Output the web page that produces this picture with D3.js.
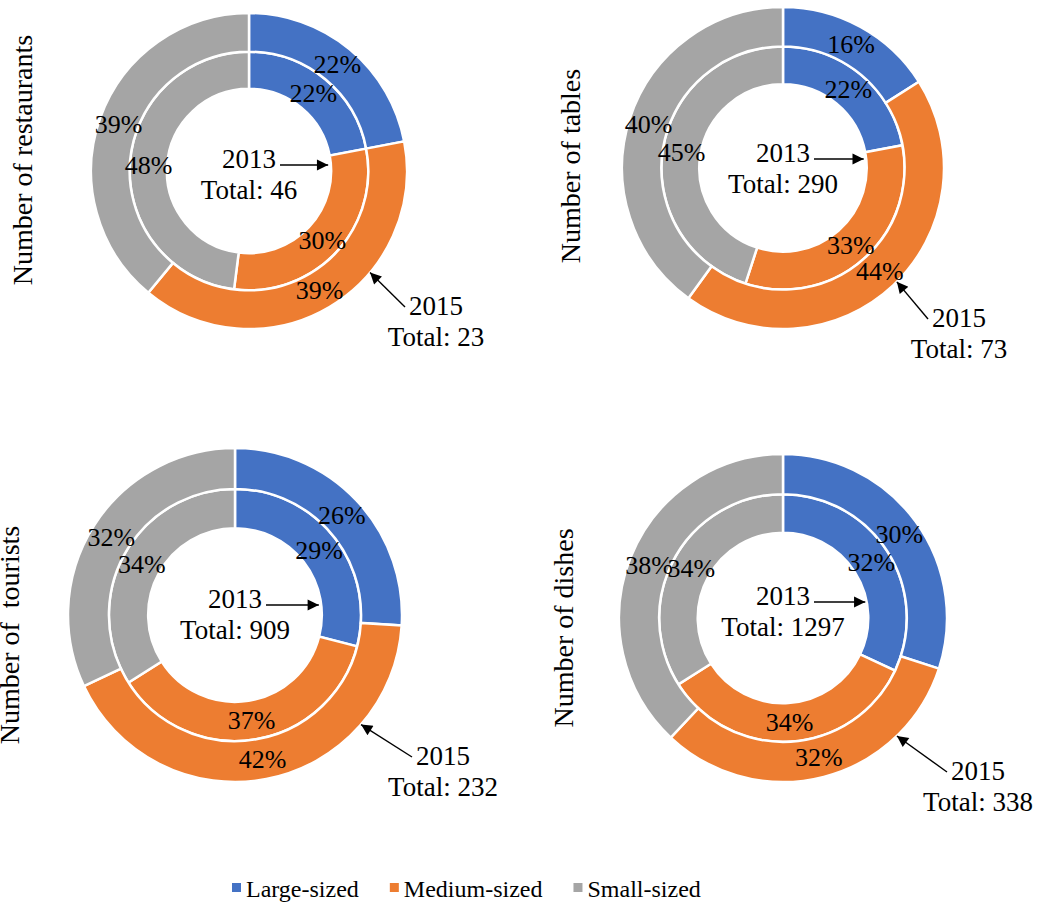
<!DOCTYPE html>
<html lang="en">
<head>
<meta charset="utf-8">
<title>Restaurants by size, 2013 vs 2015</title>
<script src="https://cdn.jsdelivr.net/npm/d3@7"></script>
<style>
  body { margin: 0; background: #fff; }
</style>
</head>
<body>
<svg id="chart" width="1039" height="905" font-family="'Liberation Serif', 'Times New Roman', 'DejaVu Serif', serif"></svg>
<script>
// data (percent shares per size class)
var sizes = ["Large-sized", "Medium-sized", "Small-sized"];
var measures = ["Number of restaurants", "Number of tables", "Number of  tourists", "Number of dishes"];
var share2013 = [[22, 30, 48], [22, 33, 45], [29, 37, 34], [32, 34, 34]];
var share2015 = [[22, 39, 39], [16, 44, 40], [26, 42, 32], [30, 32, 38]];
var total2013 = [46, 290, 909, 1297];
var total2015 = [23, 73, 232, 338];

// layout of the four panels
var panels = [
    {cx: 249, cy: 171, r: 158, titleX: -217, titleY: -11, midDy: -3, tipA: 130, lx: 187, ly: 144},
    {cx: 783, cy: 168, r: 161, titleX: -203, titleY: -2, midDy: -6, tipA: 135, lx: 176, ly: 159},
    {cx: 235, cy: 615, r: 167, titleX: -216, titleY: 20, midDy: -7, tipA: 131, lx: 208, ly: 150},
    {cx: 783, cy: 618, r: 164, titleX: -210, titleY: 10, midDy: -13, tipA: 136, lx: 195, ly: 162}
];

var color = d3.scaleOrdinal().domain(sizes).range(["#4472C4", "#ED7D31", "#A5A5A5"]);
var svg = d3.select("#chart");

svg.append("defs").append("marker")
    .attr("id", "head")
    .attr("viewBox", "0 0 10 10")
    .attr("refX", 10).attr("refY", 5)
    .attr("markerWidth", 10).attr("markerHeight", 8)
    .attr("markerUnits", "strokeWidth")
    .attr("orient", "auto")
  .append("path")
    .attr("d", "M0,0 L10,5 L0,10 Z")
    .attr("fill", "#000");

var pie = d3.pie().sort(null).value(function(d) { return d.v; });

panels.forEach(function(p, i) {
    var g = svg.append("g").attr("transform", "translate(" + p.cx + "," + p.cy + ")");
    var hole = p.r * 0.52, mid = p.r * 0.755;

    /** rings: 2013 inside, 2015 outside */
    var rings = [
        {vals: share2013[i], arc: d3.arc().innerRadius(hole).outerRadius(mid)},
        {vals: share2015[i], arc: d3.arc().innerRadius(mid).outerRadius(p.r)}
    ];
    rings.forEach(function(ring) {
        var arcs = pie(ring.vals.map(function(v, k) { return {k: sizes[k], v: v}; }));
        g.selectAll(null).data(arcs).enter().append("path")
            .attr("d", ring.arc)
            .attr("fill", function(d) { return color(d.data.k); })
            .attr("stroke", "#fff")
            .attr("stroke-width", 2.5);
        ring.arcs = arcs;
    });
    rings.forEach(function(ring) {
        g.selectAll(null).data(ring.arcs).enter().append("text")
            .attr("transform", function(d) { return "translate(" + ring.arc.centroid(d) + ")"; })
            .attr("text-anchor", "middle")
            .attr("dy", "0.35em")
            .attr("font-size", 26)
            .text(function(d) { return d.data.v + "%"; });
    });

    /** title on the left */
    g.append("text")
        .attr("transform", "translate(" + p.titleX + "," + p.titleY + ") rotate(-90)")
        .attr("text-anchor", "middle")
        .attr("font-size", 28)
        .style("white-space", "pre")
        .text(measures[i]);

    /** 2013 label in the hole */
    g.append("text").attr("x", 0).attr("y", p.midDy)
        .attr("text-anchor", "middle").attr("font-size", 27).text("2013");
    g.append("text").attr("x", 0).attr("y", p.midDy + 31)
        .attr("text-anchor", "middle").attr("font-size", 27).text("Total: " + total2013[i]);
    g.append("line")
        .attr("x1", 31).attr("y1", p.midDy - 3)
        .attr("x2", hole - 3).attr("y2", p.midDy - 3)
        .attr("stroke", "#000").attr("stroke-width", 1.4)
        .attr("marker-end", "url(#head)");

    /** 2015 label outside */
    var a = p.tipA * Math.PI / 180;
    g.append("line")
        .attr("x1", p.lx - 31).attr("y1", p.ly - 8)
        .attr("x2", p.r * Math.sin(a)).attr("y2", -p.r * Math.cos(a))
        .attr("stroke", "#000").attr("stroke-width", 1.4)
        .attr("marker-end", "url(#head)");
    g.append("text").attr("x", p.lx).attr("y", p.ly)
        .attr("text-anchor", "middle").attr("font-size", 27).text("2015");
    g.append("text").attr("x", p.lx).attr("y", p.ly + 31)
        .attr("text-anchor", "middle").attr("font-size", 27).text("Total: " + total2015[i]);
});

/** legend at the bottom */
var lx = 232;
sizes.forEach(function(s) {
    svg.append("rect").attr("x", lx).attr("y", 883).attr("width", 9).attr("height", 9)
        .attr("fill", color(s));
    var t = svg.append("text").attr("x", lx + 14).attr("y", 897)
        .attr("font-size", 24).text(s);
    lx += 14 + t.node().getComputedTextLength() + 31;
});
</script>
</body>
</html>
